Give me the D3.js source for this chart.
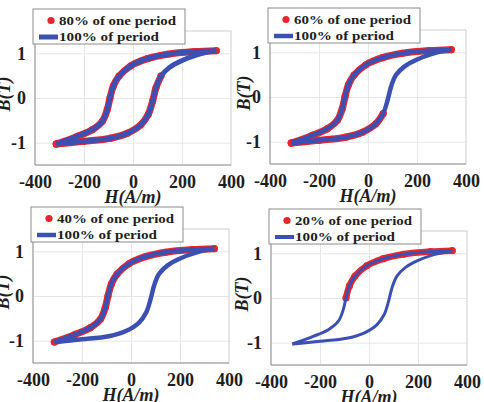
<!DOCTYPE html>
<html>
<head>
<meta charset="utf-8">
<script src="https://cdn.jsdelivr.net/npm/d3@7"></script>
<style>
  body { margin: 0; background: #fff; }
  svg text { font-family: "Liberation Serif", "Times New Roman", serif; font-weight: bold; }
</style>
</head>
<body>
<svg id="chart" width="484" height="402"></svg>
<script>
// descending branch, from the +H tip down to the -H tip
const upperH = [340, 251, 141, 59, -9, -57, -80, -94, -105, -125, -166, -228, -313];
const upperB = [1.06, 1.04, 0.98, 0.88, 0.72, 0.49, 0.27, 0.0, -0.26, -0.52, -0.71, -0.86, -1.03];
// ascending branch, from the -H tip back up to the +H tip
const lowerH = [-313, -200, -91, -23, 32, 62, 80, 94, 114, 148, 196, 265, 340];
const lowerB = [-1.03, -0.97, -0.90, -0.79, -0.60, -0.37, -0.07, 0.23, 0.49, 0.68, 0.83, 0.97, 1.06];

const redLabels = ["80% of one period", "60% of one period", "40% of one period", "20% of one period"];
const blueLabel = "100% of period";
// how many samples of each branch the partial-period series covers
const redUpperN = [13, 13, 13, 8];
const redLowerN = [9, 6, 0, 0];

const xTicks = [-400, -200, 0, 200, 400];
const yTicks = [-1, 0, 1];
const xGrid = [-200, 0, 200];

// panel placement
const panels = [
    { left: 35, top: 31, ylx: 10, blueW: 5, redW: 7 },
    { left: 270, top: 30, ylx: 250, blueW: 4.5, redW: 7 },
    { left: 33, top: 229, ylx: 9, blueW: 4.5, redW: 7 },
    { left: 271, top: 231, ylx: 248, blueW: 3, redW: 6.5 }
];
const W = 196, H = 134;
const blue = "#3b50b2", red = "#e8242c";
const fmt = d => String(d);

const svg = d3.select("#chart");

const x = d3.scaleLinear().domain([-400, 400]).range([0, W]);
const y = d3.scaleLinear().domain([-1.5, 1.5]).range([H, 0]);

const line = d3.line()
    .x(d => x(d[0]))
    .y(d => y(d[1]))
    .curve(d3.curveCatmullRom.alpha(0.5));

const upper = upperH.map((h, i) => [h, upperB[i]]);
const lower = lowerH.map((h, i) => [h, lowerB[i]]);

panels.forEach(function(p, k) {
    const g = svg.append("g").attr("transform", `translate(${p.left},${p.top})`);

    // grid
    g.append("g")
        .call(d3.axisBottom(x).tickValues(xGrid).tickSize(H).tickFormat(""))
        .call(a => a.select(".domain").remove())
        .selectAll("line").attr("stroke", "#e6e6e6");
    g.append("g")
        .call(d3.axisLeft(y).tickValues(yTicks).tickSize(-W).tickFormat(""))
        .call(a => a.select(".domain").remove())
        .selectAll("line").attr("stroke", "#e6e6e6");

    // box
    g.append("rect").attr("width", W).attr("height", H)
        .attr("fill", "none").attr("stroke", "#cdcdcd");
    g.append("path").attr("d", `M0,0V${H}H${W}`)
        .attr("fill", "none").attr("stroke", "#9a9a9a");

    // partial period (red markers)
    const redUp = upper.slice(0, redUpperN[k]);
    const redLo = lower.slice(0, redLowerN[k]);
    const redG = g.append("g");
    [redUp, redLo].forEach(seg => {
        if (seg.length < 2) return;
        redG.append("path").attr("d", line(seg))
            .attr("fill", "none").attr("stroke", red)
            .attr("stroke-width", p.redW).attr("stroke-linecap", "round");
    });
    redG.selectAll("circle").data(redUp.concat(redLo)).enter().append("circle")
        .attr("cx", d => x(d[0])).attr("cy", d => y(d[1]))
        .attr("r", 3.6).attr("fill", red);

    // full period (blue line)
    [upper, lower].forEach(seg => {
        g.append("path").attr("d", line(seg))
            .attr("fill", "none").attr("stroke", blue)
            .attr("stroke-width", p.blueW).attr("stroke-linejoin", "round");
    });

    // axes labels
    const xa = g.append("g").attr("transform", `translate(0,${H})`)
        .call(d3.axisBottom(x).tickValues(xTicks).tickFormat(fmt).tickSize(0).tickPadding(10));
    xa.select(".domain").remove();
    xa.selectAll("text").attr("font-size", 18).attr("fill", "#1e1e1e");

    const ya = g.append("g")
        .call(d3.axisLeft(y).tickValues(yTicks).tickFormat(fmt).tickSize(0).tickPadding(9));
    ya.select(".domain").remove();
    ya.selectAll("text").attr("font-size", 18).attr("fill", "#1e1e1e");

    g.append("text")
        .attr("x", W / 2).attr("y", H + 38)
        .attr("text-anchor", "middle")
        .attr("font-size", 18).attr("font-style", "italic").attr("fill", "#1e1e1e")
        .text("H(A/m)");

    svg.append("text")
        .attr("transform", `translate(${p.ylx},${p.top + H / 2 - 4}) rotate(-90)`)
        .attr("text-anchor", "middle")
        .attr("font-size", 18).attr("font-style", "italic").attr("fill", "#1e1e1e")
        .text("B(T)");

    // legend
    const lg = g.append("g").attr("transform", "translate(-2,-22)");
    lg.append("rect").attr("width", 152).attr("height", 35)
        .attr("fill", "#fff").attr("stroke", "#8c8c8c");
    lg.append("circle").attr("cx", 18).attr("cy", 11.5).attr("r", 3.6).attr("fill", red);
    lg.append("line").attr("x1", 6).attr("x2", 25).attr("y1", 28).attr("y2", 28)
        .attr("stroke", blue).attr("stroke-width", Math.max(p.blueW, 4));
    lg.append("text").attr("x", 26).attr("y", 15.5)
        .attr("font-size", 13.5).attr("fill", "#1e1e1e")
        .attr("textLength", 117).attr("lengthAdjust", "spacingAndGlyphs")
        .text(redLabels[k]);
    lg.append("text").attr("x", 26).attr("y", 32)
        .attr("font-size", 13.5).attr("fill", "#1e1e1e")
        .attr("textLength", 100).attr("lengthAdjust", "spacingAndGlyphs")
        .text(blueLabel);
});
</script>
</body>
</html>
